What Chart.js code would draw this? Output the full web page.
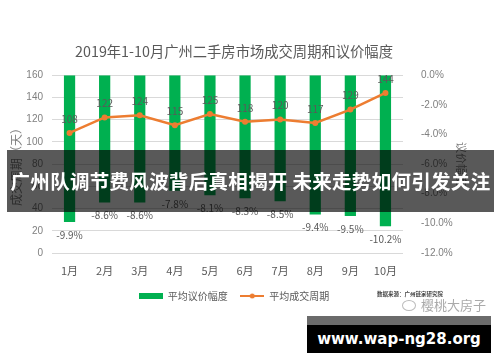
<!DOCTYPE html>
<html>
<head>
<meta charset="utf-8">
<script src="https://cdn.jsdelivr.net/npm/chart.js@4.4.0/dist/chart.umd.min.js"></script>
<style>
  body { margin: 0; background: #fff; width: 500px; height: 362px; overflow: hidden; position: relative; font-family: "Noto Sans CJK SC", sans-serif; }
  #wrap { position: absolute; left: 0; top: 0; width: 468px; height: 362px; }
  .band { position: absolute; left: 7px; top: 150px; width: 487px; height: 62px; background: rgba(0,0,0,0.65);
          color: #fff; font-weight: bold; font-size: 19.5px; line-height: 62px; text-align: center; white-space: nowrap; letter-spacing: 0.3px; }
  .site-top { position: absolute; left: 307px; top: 316px; width: 184px; height: 9px; background: #6b6b6b; }
  .site { position: absolute; left: 307px; top: 325px; width: 184px; height: 28px; background: #000; color: #fff;
          font-family: "DejaVu Sans", sans-serif; font-weight: bold; font-size: 15px; line-height: 28px; text-align: center; }
  .src { position: absolute; left: 377px; top: 290px; font-size: 5.5px; color: #444; font-weight: bold; white-space: nowrap; }
  .mark { position: absolute; left: 402px; top: 295px; font-size: 13px; color: #aaa; white-space: nowrap; }
  .mark i { display: inline-block; width: 12px; height: 9px; border: 1px solid #bbb; border-radius: 50%; margin-right: 5px; vertical-align: -1px; }
</style>
</head>
<body>
<div id="wrap"><canvas id="chart" width="468" height="362"></canvas></div>
<div class="src">数据来源：广州链家研究院</div>
<div class="mark"><i></i>樱桃大房子</div>
<div class="band">广州队调节费风波背后真相揭开 未来走势如何引发关注</div>
<div class="site-top"></div>
<div class="site">www.wap-ng28.org</div>
<script>
// 数据
const months = ['1月', '2月', '3月', '4月', '5月', '6月', '7月', '8月', '9月', '10月'];
const bargainRate = [-9.9, -8.6, -8.6, -7.8, -8.1, -8.3, -8.5, -9.4, -9.5, -10.2]; // 平均议价幅度 (%)
const dealCycle = [108, 122, 124, 115, 125, 118, 120, 117, 129, 144];             // 平均成交周期 (天)
const leftTicks = [0, 20, 40, 60, 80, 100, 120, 140, 160];
const rightTicks = [0, -2, -4, -6, -8, -10, -12];

const GREEN = '#00B050';
const ORANGE = '#ED7D31';
const TEXT = '#595959';

// 凡例用の小さいアイコン
function makeIcon(draw) {
    const c = document.createElement('canvas');
    c.width = 24; c.height = 8;
    draw(c.getContext('2d'));
    return c;
}
const barIcon = makeIcon(ctx => { ctx.fillStyle = GREEN; ctx.fillRect(0, 1, 24, 6); });
const lineIcon = makeIcon(ctx => {
    ctx.strokeStyle = ORANGE; ctx.lineWidth = 2;
    ctx.beginPath(); ctx.moveTo(0, 4); ctx.lineTo(24, 4); ctx.stroke();
    ctx.fillStyle = ORANGE; ctx.beginPath(); ctx.arc(12, 4, 2.5, 0, Math.PI * 2); ctx.fill();
});

// 値ラベル
const valueLabels = {
    id: 'valueLabels',
    afterDatasetsDraw(chart) {
        const ctx = chart.ctx;
        ctx.save();
        ctx.font = '10px "Noto Sans CJK SC", sans-serif';
        ctx.fillStyle = TEXT;
        ctx.textAlign = 'center';
        ctx.textBaseline = 'middle';
        chart.getDatasetMeta(0).data.forEach((bar, i) => {
            ctx.fillText(bargainRate[i].toFixed(1) + '%', bar.x, bar.y + 13);
        });
        chart.getDatasetMeta(1).data.forEach((pt, i) => {
            ctx.fillText(String(dealCycle[i]), pt.x, pt.y - 14);
        });
        ctx.restore();
    }
};

new Chart(document.getElementById('chart'), {
    data: {
        labels: months,
        datasets: [
            {
                type: 'bar',
                label: '平均议价幅度',
                data: bargainRate,
                yAxisID: 'y1',
                backgroundColor: GREEN,
                barPercentage: 0.32,
                categoryPercentage: 1,
                order: 2
            },
            {
                type: 'line',
                label: '平均成交周期',
                data: dealCycle,
                yAxisID: 'y',
                borderColor: ORANGE,
                backgroundColor: ORANGE,
                borderWidth: 2.5,
                pointRadius: 3,
                pointBorderWidth: 0,
                tension: 0,
                order: 1
            }
        ]
    },
    options: {
        responsive: false,
        animation: false,
        layout: { padding: { left: 0, right: 0, bottom: 51 } },
        plugins: {
            tooltip: { enabled: false },
            title: {
                display: true,
                text: '2019年1-10月广州二手房市场成交周期和议价幅度',
                color: TEXT,
                font: { size: 14.3, weight: 'normal', family: '"Noto Sans CJK SC", sans-serif' },
                padding: { top: 43, bottom: 15 }
            },
            legend: {
                position: 'bottom',
                labels: {
                    usePointStyle: true,
                    pointStyleWidth: 24,
                    padding: 8,
                    color: TEXT,
                    font: { size: 10, family: '"Noto Sans CJK SC", sans-serif' },
                    generateLabels: () => [
                        { text: '平均议价幅度  ', pointStyle: barIcon, fontColor: TEXT, datasetIndex: 0, lineWidth: 0 },
                        { text: '平均成交周期', pointStyle: lineIcon, fontColor: TEXT, datasetIndex: 1, lineWidth: 0 }
                    ]
                }
            }
        },
        scales: {
            x: {
                grid: { display: false },
                border: { display: false },
                afterFit: s => { s.height = 30; },
                ticks: { color: TEXT, padding: 3, font: { size: 11, family: '"Noto Sans CJK SC", sans-serif' } }
            },
            y: {
                position: 'left',
                min: 0,
                max: 160,
                afterBuildTicks: s => { s.ticks = leftTicks.map(v => ({ value: v })); },
                afterFit: s => { s.width = 52; },
                grid: { color: '#d9d9d9', drawTicks: false },
                border: { display: false },
                ticks: { color: '#7f7f7f', padding: 9, font: { size: 10 } },
                title: {
                    display: true,
                    text: '成交周期（天）',
                    color: '#7f7f7f',
                    font: { size: 12, family: '"Noto Sans CJK SC", sans-serif' },
                    padding: { top: 9, bottom: 0 }
                }
            },
            y1: {
                position: 'right',
                min: -12,
                max: 0,
                afterBuildTicks: s => { s.ticks = rightTicks.map(v => ({ value: v })); },
                afterFit: s => { s.width = 65; },
                grid: { display: false },
                border: { display: false },
                ticks: { color: '#7f7f7f', padding: 10, font: { size: 10 }, callback: v => v.toFixed(1) + '%' },
                title: {
                    display: true,
                    text: '议价幅度',
                    color: '#7f7f7f',
                    font: { size: 11, family: '"Noto Sans CJK SC", sans-serif' },
                    padding: { top: 0, bottom: 13 }
                }
            }
        }
    },
    plugins: [valueLabels]
});
</script>
</body>
</html>
